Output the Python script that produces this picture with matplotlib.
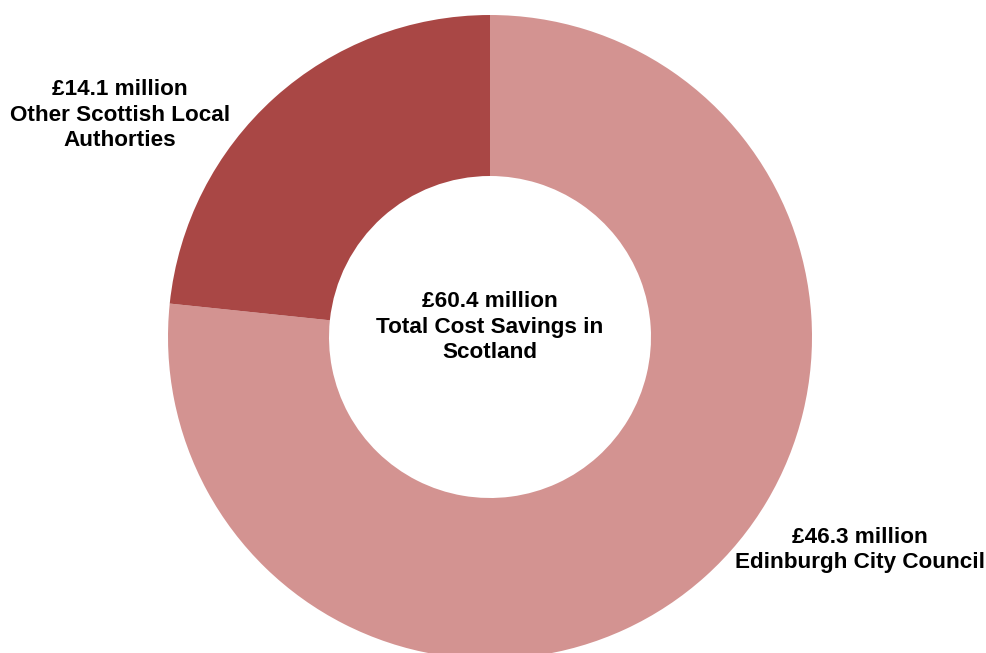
import matplotlib.pyplot as plt

plt.rcParams['font.family'] = ['Liberation Sans', 'DejaVu Sans']

# data
labels = ['Edinburgh City Council', 'Other Scottish Local\nAuthorties']
values = [46.3, 14.1]
colors = ['#D39391', '#A94745']
total = 60.4

W, H = 987, 653
fig = plt.figure(figsize=(W / 100, H / 100), dpi=100)
ax = fig.add_axes([0, 0, 1, 1])

ax.pie(values, colors=colors, startangle=90, counterclock=False,
       center=(490, H - 337), radius=322,
       wedgeprops=dict(width=161, edgecolor='none'), frame=True)
ax.set_xlim(0, W)
ax.set_ylim(0, H)
ax.set_aspect('equal')
ax.axis('off')

txt = dict(fontsize=16.2, fontweight='bold', ha='center', va='center', linespacing=1.3)
ax.text(490, H - 327, '£%.1f million\nTotal Cost Savings in\nScotland' % total, **txt)
ax.text(120, H - 115, '£%.1f million\n%s' % (values[1], labels[1]), **txt)
ax.text(860, H - 550, '£%.1f million\n%s' % (values[0], labels[0]), **txt)

fig.savefig('out.png', dpi=100)
